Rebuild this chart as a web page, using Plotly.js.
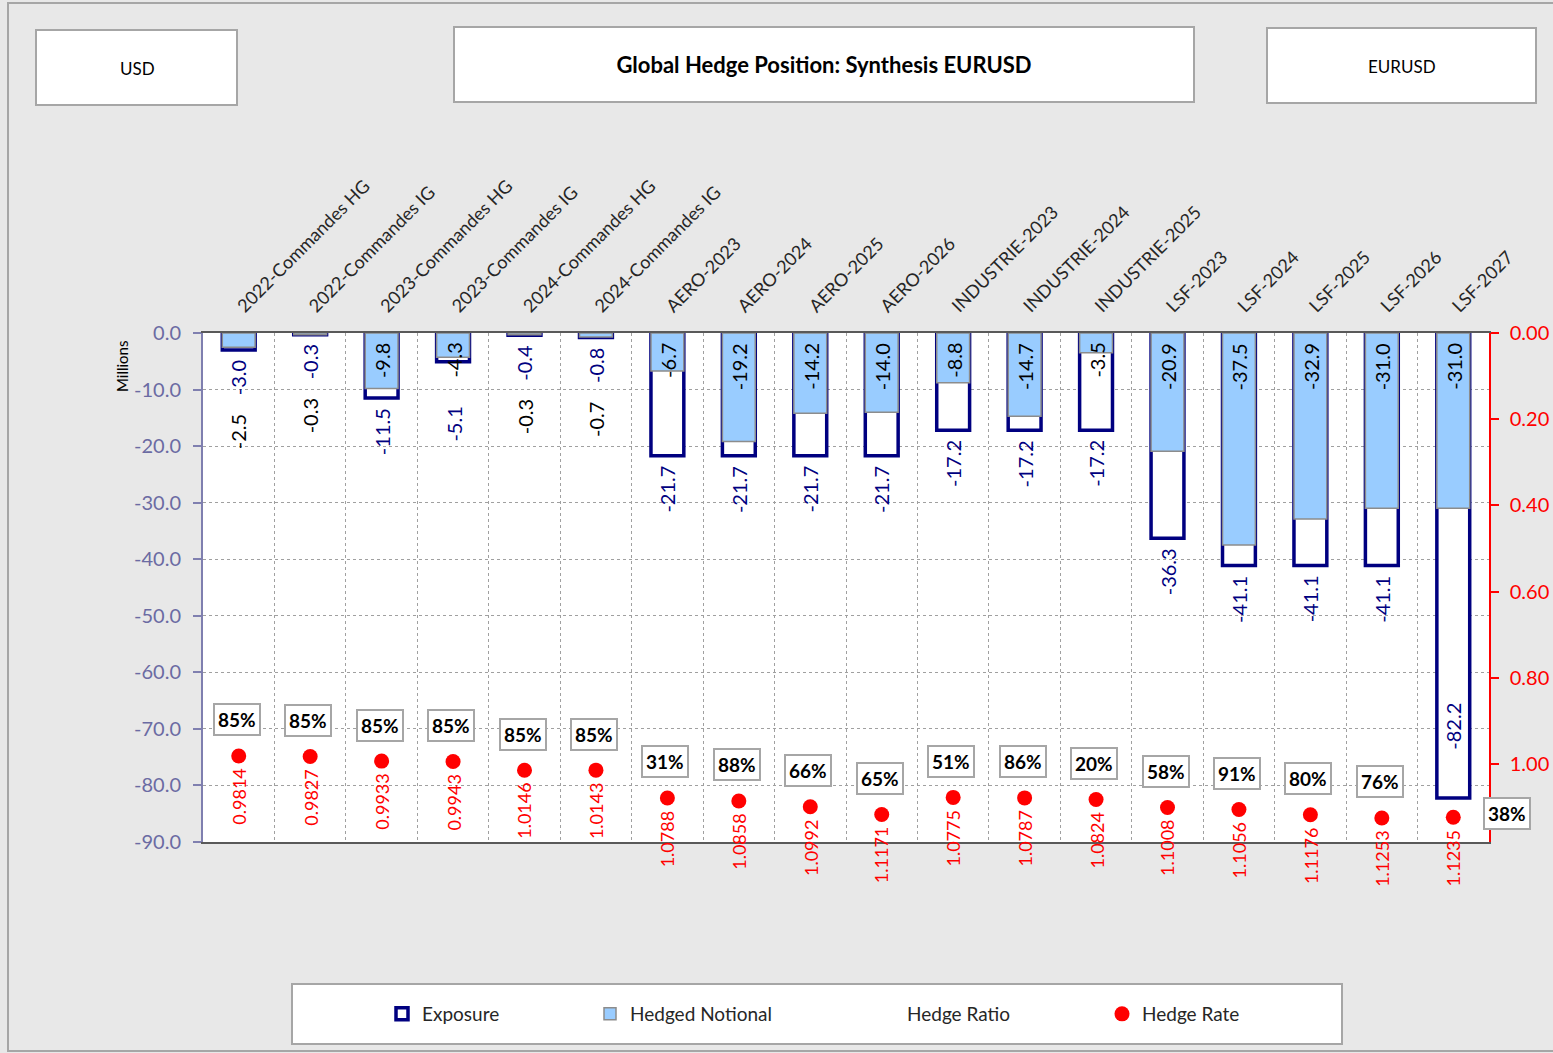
<!DOCTYPE html>
<html>
<head>
<meta charset="utf-8">
<script src="https://cdn.plot.ly/plotly-3.0.1.min.js"></script>
<style>
  html, body { margin: 0; padding: 0; background: #E8E8E8; }
  #chart { width: 1553px; height: 1053px; }
</style>
</head>
<body>
<div id="chart"></div>
<script>
// ---------- DATA ----------
const categories = [
  "2022-Commandes HG", "2022-Commandes IG", "2023-Commandes HG", "2023-Commandes IG",
  "2024-Commandes HG", "2024-Commandes IG", "AERO-2023", "AERO-2024", "AERO-2025",
  "AERO-2026", "INDUSTRIE-2023", "INDUSTRIE-2024", "INDUSTRIE-2025", "LSF-2023",
  "LSF-2024", "LSF-2025", "LSF-2026", "LSF-2027"
];
const exposure = [-3.0, -0.3, -11.5, -5.1, -0.4, -0.8, -21.7, -21.7, -21.7, -21.7,
                  -17.2, -17.2, -17.2, -36.3, -41.1, -41.1, -41.1, -82.2];
const hedgedNotional = [-2.5, -0.3, -9.8, -4.3, -0.3, -0.7, -6.7, -19.2, -14.2, -14.0,
                        -8.8, -14.7, -3.5, -20.9, -37.5, -32.9, -31.0, -31.0];
const hedgeRatio = [85, 85, 85, 85, 85, 85, 31, 88, 66, 65, 51, 86, 20, 58, 91, 80, 76, 38];
const hedgeRate = [0.9814, 0.9827, 0.9933, 0.9943, 1.0146, 1.0143, 1.0788, 1.0858, 1.0992,
                   1.1171, 1.0775, 1.0787, 1.0824, 1.1008, 1.1056, 1.1176, 1.1253, 1.1235];
const leftTicks = [0, -10, -20, -30, -40, -50, -60, -70, -80, -90];
const rightTicks = [0, 0.2, 0.4, 0.6, 0.8, 1.0];

// ---------- LAYOUT GEOMETRY ----------
const FIG_W = 1553, FIG_H = 1053;
const L = 203, R = 1489, T = 333, B = 842;
const PW = R - L, PH = B - T;
const px = x => (x - L) / PW;
const py = y => (B - y) / PH;
const ppu = PH / 90;

const FONT = 'Lato, "Open Sans", "Liberation Sans", sans-serif';
const NAVY = '#000080';
const LIGHTBLUE = '#99CCFF';
const RED = '#FF0000';

const fmt1 = v => v.toFixed(1);

// ---------- TRACES ----------
const traces = [
  {
    type: 'bar', name: 'Exposure', x: categories, y: exposure, yaxis: 'y',
    width: 0.46,
    marker: { color: '#FFFFFF', line: { color: NAVY, width: 3.5 } },
    hoverinfo: 'x+y', legendwidth: 163
  },
  {
    type: 'bar', name: 'Hedged Notional', x: categories, y: hedgedNotional, yaxis: 'y',
    width: 0.46,
    marker: { color: LIGHTBLUE, line: { color: '#8C8C8C', width: 1.5 } },
    hoverinfo: 'x+y', legendwidth: 232
  },
  {
    type: 'scatter', mode: 'lines', name: 'Hedge Ratio', x: categories, y: hedgeRate,
    yaxis: 'y2', text: hedgeRatio.map(v => v + '%'),
    line: { width: 0, color: 'rgba(0,0,0,0)' }, hoverinfo: 'skip', legendwidth: 190
  },
  {
    type: 'scatter', mode: 'markers', name: 'Hedge Rate', x: categories, y: hedgeRate,
    yaxis: 'y2', cliponaxis: false,
    marker: { color: RED, size: 15, symbol: 'circle' }, hoverinfo: 'x+y', legendwidth: 120
  }
];

// ---------- ANNOTATIONS ----------
const annotations = [];
categories.forEach((c, i) => {
  const e = exposure[i], h = hedgedNotional[i];
  const hFits = Math.abs(h) >= 3.5;
  // Hedged notional label (black)
  annotations.push({ x: c, y: hFits ? 0 : e, xref: 'x', yref: 'y',
    xanchor: 'center', yanchor: 'top', yshift: hFits ? -8 : -62,
    text: fmt1(h), textangle: -90, showarrow: false,
    font: { family: FONT, size: 20, color: '#000000' } });
  // Exposure label (navy)
  const endPx = -e * ppu;
  let ea;
  if (endPx + 60 > PH) {
    ea = { y: e, yanchor: 'bottom', yshift: 46 };
  } else if (hFits && endPx < 58) {
    ea = { y: 0, yanchor: 'top', yshift: -72 };
  } else {
    ea = { y: e, yanchor: 'top', yshift: -8 };
  }
  annotations.push(Object.assign({ x: c, xref: 'x', yref: 'y', xanchor: 'center',
    text: fmt1(e), textangle: -90, showarrow: false,
    font: { family: FONT, size: 20, color: NAVY } }, ea));
  // Hedge rate label (red)
  annotations.push({ x: c, y: hedgeRate[i], xref: 'x', yref: 'y2',
    xanchor: 'center', yanchor: 'top',
    yshift: -11, text: hedgeRate[i].toFixed(4), textangle: -90, showarrow: false,
    font: { family: FONT, size: 18, color: RED } });
  // Hedge ratio label (boxed)
  const last = i === categories.length - 1;
  annotations.push({ x: c, y: hedgeRate[i], xref: 'x', yref: 'y2',
    yanchor: 'middle', xanchor: 'center',
    yshift: last ? 4 : 36, xshift: last ? 54 : -2,
    text: hedgeRatio[i] + '%', showarrow: false,
    bgcolor: '#FFFFFF', bordercolor: '#A6A6A6', borderwidth: 2, borderpad: 3,
    font: { family: FONT, size: 19, color: '#000000', weight: 'bold' } });
});

// Millions label
annotations.push({ x: px(122), y: py(367), xref: 'paper', yref: 'paper',
  xanchor: 'center', yanchor: 'middle', text: 'Millions',
  textangle: -90, showarrow: false, font: { family: FONT, size: 15, color: '#000000' } });
// Corner boxes text
annotations.push({ x: px(137), y: py(69), xref: 'paper', yref: 'paper',
  xanchor: 'center', yanchor: 'middle', text: 'USD',
  showarrow: false, font: { family: FONT, size: 17, color: '#000000' } });
annotations.push({ x: px(1402), y: py(67), xref: 'paper', yref: 'paper',
  xanchor: 'center', yanchor: 'middle', text: 'EURUSD',
  showarrow: false, font: { family: FONT, size: 17, color: '#000000' } });

// ---------- SHAPES ----------
const box = (x0, y0, x1, y1) => ({
  type: 'rect', xref: 'paper', yref: 'paper', layer: 'below',
  x0: px(x0), x1: px(x1), y0: py(y0), y1: py(y1),
  fillcolor: '#FFFFFF', line: { color: '#A6A6A6', width: 2 }
});
const shapes = [
  { type: 'rect', xref: 'paper', yref: 'paper', layer: 'below',
    x0: px(8), x1: px(1560), y0: py(3), y1: py(1051),
    fillcolor: 'rgba(0,0,0,0)', line: { color: '#A6A6A6', width: 2 } },
  box(36, 30, 237, 105),
  box(454, 27, 1194, 102),
  box(1267, 28, 1536, 103),
  box(292, 984, 1342, 1044)
];

// ---------- LAYOUT ----------
const layout = {
  width: FIG_W, height: FIG_H,
  paper_bgcolor: '#E8E8E8', plot_bgcolor: '#FFFFFF',
  margin: { l: L, r: FIG_W - R, t: T, b: FIG_H - B, pad: 0 },
  font: { family: FONT, color: '#262626' },
  title: { text: 'Global Hedge Position: Synthesis EURUSD',
    x: 824 / FIG_W, y: 1 - 65 / FIG_H, xanchor: 'center', yanchor: 'middle',
    xref: 'container', yref: 'container',
    font: { family: FONT, size: 22, color: '#000000', weight: 'bold' } },
  barmode: 'overlay',
  showlegend: true,
  legend: {
    orientation: 'h', x: px(382), xanchor: 'left', y: py(1014), yanchor: 'middle',
    bgcolor: 'rgba(0,0,0,0)', borderwidth: 0,
    font: { family: FONT, size: 19, color: '#262626' },
    traceorder: 'normal'
  },
  xaxis: {
    type: 'category', range: [-0.5, categories.length - 0.5], autorange: false,
    side: 'top', tickangle: -45, tickson: 'boundaries',
    showgrid: true, gridcolor: '#A0A0A0', griddash: '3px,3px', gridwidth: 1,
    showline: true, linecolor: '#595959', linewidth: 1.5, mirror: true,
    ticks: 'outside', ticklen: 16, tickcolor: 'rgba(0,0,0,0)',
    ticklabelstandoff: 8,
    tickfont: { family: FONT, size: 18, color: '#262626' },
    fixedrange: true, automargin: false
  },
  yaxis: {
    range: [-90, 0], autorange: false,
    tickvals: leftTicks, ticktext: leftTicks.map(v => v.toFixed(1)),
    showgrid: true, gridcolor: '#A0A0A0', griddash: '3px,3px', gridwidth: 1,
    zeroline: false, showline: true, linecolor: '#7F7FAF', linewidth: 2,
    ticks: 'outside', ticklen: 8, tickcolor: '#7F7FAF', tickwidth: 1.5,
    ticklabelstandoff: 8,
    tickfont: { family: FONT, size: 20, color: '#6B6BA3' },
    fixedrange: true, automargin: false
  },
  yaxis2: {
    overlaying: 'y', side: 'right', range: [1.181, 0], autorange: false,
    tickvals: rightTicks, ticktext: rightTicks.map(v => v.toFixed(2)),
    showgrid: false, zeroline: false, showline: true, linecolor: RED, linewidth: 1.5,
    ticks: 'outside', ticklen: 8, tickcolor: RED, tickwidth: 1.5,
    ticklabelstandoff: 7,
    tickfont: { family: FONT, size: 20, color: RED },
    fixedrange: true, automargin: false
  },
  annotations: annotations,
  shapes: shapes,
  hovermode: 'closest'
};

Plotly.newPlot('chart', traces, layout, { displayModeBar: false, responsive: false });
</script>
</body>
</html>
